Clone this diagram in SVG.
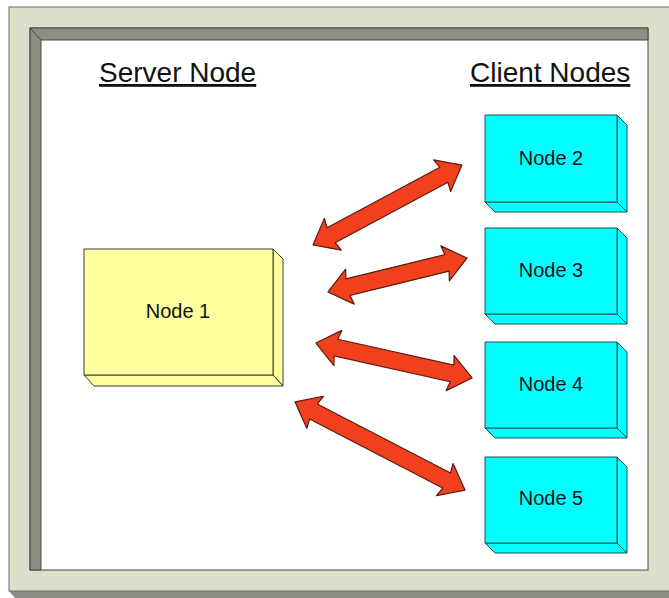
<svg xmlns="http://www.w3.org/2000/svg" width="669" height="598" viewBox="0 0 669 598">
<style>
.face{stroke:#3a3a3a;stroke-width:1;stroke-linejoin:round}
.y{fill:#ffff9e}
.c{fill:#00ffff;stroke:#1f4f55}
.lbl{font-family:"Liberation Sans",Arial,sans-serif;font-size:20px;fill:#111;text-anchor:middle}
.hdr{font-family:"Liberation Sans",Arial,sans-serif;font-size:28px;fill:#111;text-decoration:underline}
.arr{fill:#f2401c;stroke:#5a1c10;stroke-width:1.2;stroke-linejoin:round}
</style>
<rect width="669" height="598" fill="#ffffff"/>
<g id="frame">
<polygon points="9,591 669,591 669,598 15,598" fill="#8b8e82"/>
<rect x="9" y="7" width="662" height="584" fill="#dcdfc9" stroke="#6e6e6e" stroke-width="1"/>
<rect x="30" y="28" width="618" height="542" fill="#ffffff" stroke="#4a4a4a" stroke-width="1"/>
<polygon points="30,28 648,28 648,40 41,40 41,570 30,570" fill="#8b8e80" stroke="#4a4a4a" stroke-width="1"/>
<line x1="30" y1="28" x2="41" y2="40" stroke="#4a4a4a"/>
</g>
<g id="headers">
<text class="hdr" x="99" y="82">Server Node</text>
<text class="hdr" x="470" y="82">Client Nodes</text>
</g>
<g id="node1">
<polygon class="face y" points="273,249 283,259 283,386 273,375"/>
<polygon class="face y" points="84,375 273,375 283,386 94,386"/>
<rect class="face y" x="84" y="249" width="189" height="126"/>
<text class="lbl" x="178" y="318">Node 1</text>
</g>
<g id="node2">
<polygon class="face c" points="617,115 627,125 627,212 617,202"/>
<polygon class="face c" points="485,202 617,202 627,212 495,212"/>
<rect class="face c" x="485" y="115" width="132" height="87"/>
<text class="lbl" x="551" y="165">Node 2</text>
</g>
<g id="node3">
<polygon class="face c" points="617,228 627,238 627,324 617,314"/>
<polygon class="face c" points="485,314 617,314 627,324 495,324"/>
<rect class="face c" x="485" y="228" width="132" height="86"/>
<text class="lbl" x="551" y="277">Node 3</text>
</g>
<g id="node4">
<polygon class="face c" points="617,342 627,352 627,438 617,428"/>
<polygon class="face c" points="485,428 617,428 627,438 495,438"/>
<rect class="face c" x="485" y="342" width="132" height="86"/>
<text class="lbl" x="551" y="391">Node 4</text>
</g>
<g id="node5">
<polygon class="face c" points="617,457 627,467 627,553 617,543"/>
<polygon class="face c" points="485,543 617,543 627,553 495,553"/>
<rect class="face c" x="485" y="457" width="132" height="86"/>
<text class="lbl" x="551" y="505">Node 5</text>
</g>
<g id="connectors">
<polygon class="arr" transform="translate(387.5,205) rotate(-28.2)" points="-84.5,0 -62,-18 -64,-8.5 64,-8.5 62,-18 84.5,0 62,18 64,8.5 -64,8.5 -62,18"/>
<polygon class="arr" transform="translate(397.5,275) rotate(-13.7)" points="-71.5,0 -49,-18 -51,-8.5 51,-8.5 49,-18 71.5,0 49,18 51,8.5 -51,8.5 -49,18"/>
<polygon class="arr" transform="translate(394,360.5) rotate(12.6)" points="-80,0 -57.5,-18 -59.5,-8.5 59.5,-8.5 57.5,-18 80,0 57.5,18 59.5,8.5 -59.5,8.5 -57.5,18"/>
<polygon class="arr" transform="translate(380,446) rotate(27.4)" points="-95.7,0 -73,-18 -75,-8.5 75,-8.5 73,-18 95.7,0 73,18 75,8.5 -75,8.5 -73,18"/>
</g>
</svg>
